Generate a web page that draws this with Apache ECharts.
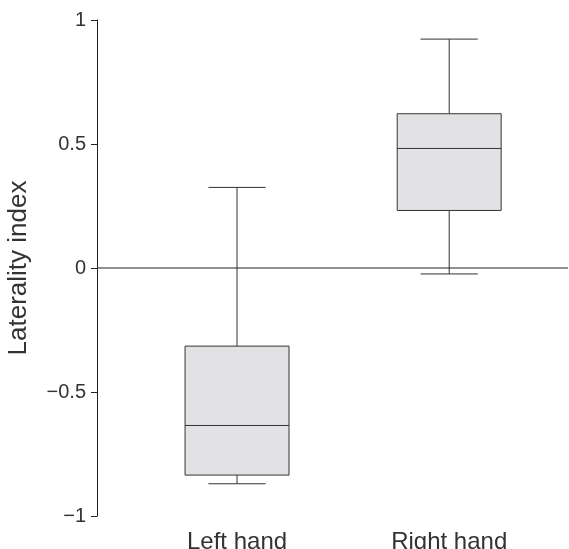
<!DOCTYPE html>
<html><head><meta charset="utf-8">
<script src="https://cdn.jsdelivr.net/npm/echarts@6/dist/echarts.min.js"></script>
<style>html,body{margin:0;padding:0;background:#fff}#c{width:569px;height:549px}</style>
</head><body><div id="c"></div>
<script>
const categories = ['Left hand', 'Right hand'];
// [min, Q1, median, Q3, max]
const boxValues = [
  [-0.87, -0.835, -0.635, -0.315, 0.325],
  [-0.024, 0.232, 0.482, 0.622, 0.923]
];
const yTicks = [-1, -0.5, 0, 0.5, 1];

const chart = echarts.init(document.getElementById('c'));
const data = boxValues.map((v, i) => [i + 1].concat(v));
chart.setOption({
  animation: false,
  grid: {left: 97, right: 1, top: 20, bottom: 33, outerBoundsMode: 'none', containLabel: false},
  xAxis: {type: 'value', min: 0.34, max: 2.56, show: false},
  yAxis: {
    type: 'value', min: -1, max: 1, interval: 0.5,
    axisLine: {show: true, lineStyle: {color: '#222', width: 1}},
    axisTick: {show: true, length: 6, lineStyle: {color: '#222'}},
    splitLine: {show: false},
    axisLabel: {fontSize: 20, color: '#333', fontFamily: 'Liberation Sans, Arial', margin: 11,
      formatter: v => (v < 0 ? '\u2212' + Math.abs(v) : String(v))},
    name: 'Laterality index', nameLocation: 'middle', nameGap: 65,
    nameTextStyle: {fontSize: 26, color: '#333', fontFamily: 'Liberation Sans, Arial'}
  },
  series: [{
    type: 'line', data: [[0.34, 0], [2.56, 0]], symbol: 'none',
    lineStyle: {color: '#222', width: 1}, silent: true
  }, {
    type: 'custom', data: data,
    renderItem: (params, api) => {
      const x = api.value(0);
      const mn = api.value(1), q1 = api.value(2), md = api.value(3), q3 = api.value(4), mx = api.value(5);
      const hw = 0.245, cw = 0.135;
      const p = (a, b) => api.coord([a, b]);
      const st = {stroke: '#333', lineWidth: 1, fill: null};
      const tl = p(x - hw, q3), br = p(x + hw, q1);
      const lab = p(x, -1);
      return {type: 'group', children: [
        {type: 'line', shape: {x1: p(x, mx)[0], y1: p(x, mx)[1], x2: p(x, q3)[0], y2: p(x, q3)[1]}, style: st},
        {type: 'line', shape: {x1: p(x, q1)[0], y1: p(x, q1)[1], x2: p(x, mn)[0], y2: p(x, mn)[1]}, style: st},
        {type: 'line', shape: {x1: p(x - cw, mx)[0], y1: p(x, mx)[1], x2: p(x + cw, mx)[0], y2: p(x, mx)[1]}, style: st},
        {type: 'line', shape: {x1: p(x - cw, mn)[0], y1: p(x, mn)[1], x2: p(x + cw, mn)[0], y2: p(x, mn)[1]}, style: st},
        {type: 'rect', shape: {x: tl[0], y: tl[1], width: br[0] - tl[0], height: br[1] - tl[1]},
          style: {fill: '#e2e2e4', stroke: '#333', lineWidth: 1}},
        {type: 'line', shape: {x1: tl[0], y1: p(x, md)[1], x2: br[0], y2: p(x, md)[1]}, style: st},
        {type: 'text', x: lab[0], y: lab[1] + 14, style: {text: categories[params.dataIndex],
          fontSize: 24, fill: '#333', fontFamily: 'Liberation Sans, Arial', align: 'center', verticalAlign: 'top'}}
      ]};
    }
  }]
});
</script></body></html>
